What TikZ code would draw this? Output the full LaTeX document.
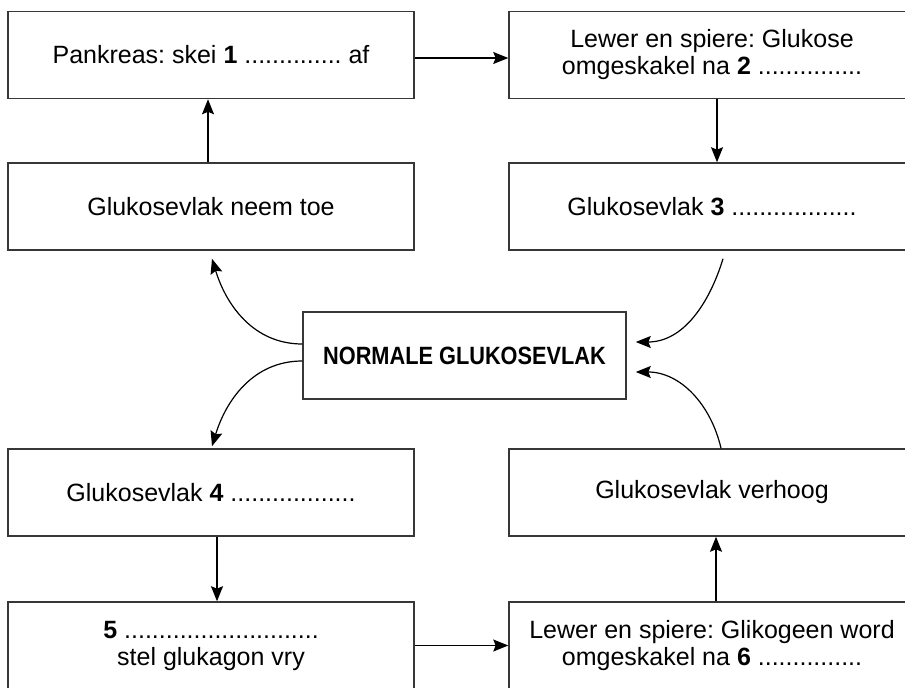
\documentclass[tikz,border=0pt]{standalone}
\usepackage{fontspec}
\setmainfont{Liberation Sans}
\newfontfamily\smalbold[FakeStretch=0.87]{Liberation Sans}
\usetikzlibrary{arrows.meta,positioning}
\definecolor{glucline}{RGB}{55,55,55}
\frenchspacing

\begin{document}
\begin{tikzpicture}[x=0.5pt,y=0.5pt,
    vlak/.style={draw=glucline,line width=0.75pt,minimum width=203pt,minimum height=43.5pt,
      align=center,inner sep=2pt,font=\fontsize{12.5}{13.5}\selectfont},
    pyl/.style={-{Stealth[length=7.5pt,width=6pt,inset=1.2pt]},line width=0.6pt}]
  \useasboundingbox (0,0) rectangle (905,687);
  \clip (0,0) rectangle (905,687);
  \fill[white] (0,0) rectangle (905,687);
  % boxes
  \node[vlak] (pank) at (211,632) {Pankreas: skei \textbf{1} .............. af};
  \node[vlak] (lewer) at (712,632) {Lewer en spiere: Glukose\\omgeskakel na \textbf{2} ...............};
  \node[vlak] (hoog) at (211,480.5) {Glukosevlak neem toe};
  \node[vlak] (daal) at (712,480.5) {Glukosevlak \textbf{3} ..................};
  \node[vlak,minimum width=161.5pt,font=\smalbold\fontsize{12.5}{13.5}\selectfont\bfseries] (norm) at (464.5,331.5) {NORMALE GLUKOSEVLAK};
  \node[vlak] (laag) at (211,194.5) {Glukosevlak \textbf{4} ..................};
  \node[vlak] (verh) at (712,194.5) {Glukosevlak verhoog};
  \node[vlak] (glukag) at (211,41.5) {\textbf{5} ............................\\stel glukagon vry};
  \node[vlak] (glikog) at (712,41.5) {Lewer en spiere: Glikogeen word\\omgeskakel na \textbf{6} ...............};
  % straight arrows
  \draw[pyl] ([yshift=-1.5pt]pank.east) -- ([yshift=-1.5pt]lewer.west);
  \draw[pyl] ([xshift=2.5pt]lewer.south) -- ([xshift=2.5pt]daal.north);
  \draw[pyl] ([xshift=-1.5pt]hoog.north) -- ([xshift=-1.5pt]pank.south);
  \draw[pyl] ([xshift=3pt]laag.south) -- ([xshift=3pt]glukag.north);
  \draw[pyl] (glukag.east) -- (glikog.west);
  \draw[pyl] ([xshift=2pt]glikog.north) -- ([xshift=2pt]verh.south);
  % curved arrows round the centre
  \draw[pyl] ([yshift=5.75pt]norm.west) to[out=180,in=-73] ([shift={(0.5pt,-4pt)}]hoog.south);
  \draw[pyl] ([yshift=-2.75pt]norm.west) to[out=180,in=73] ([shift={(0.5pt,1pt)}]laag.north);
  \draw[pyl] ([shift={(5.5pt,-4pt)}]daal.south) to[out=-107,in=0] ([shift={(4.5pt,6.75pt)}]norm.east);
  \draw[pyl] ([xshift=4.5pt]verh.north) to[out=103,in=0] ([shift={(4.5pt,-8.25pt)}]norm.east);
\end{tikzpicture}
\end{document}
